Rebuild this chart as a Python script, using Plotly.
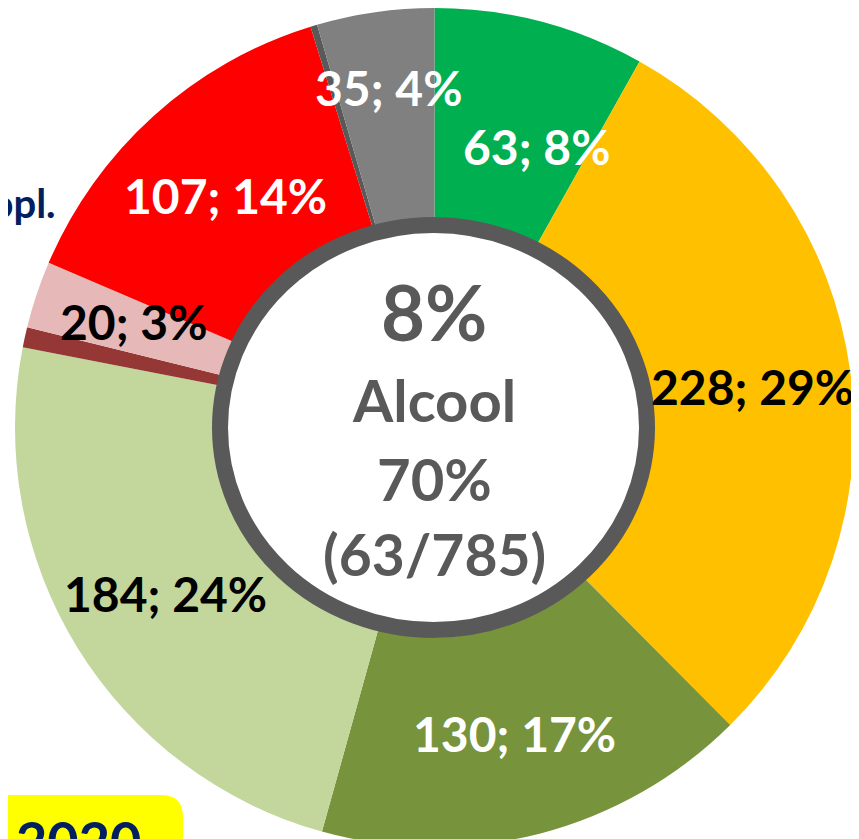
import math
import plotly.graph_objects as go

# ---- data ----
categories = ["Vert", "Orange", "Olive", "Vert clair", "Bordeaux", "Rose", "Rouge", "Gris foncé", "Gris"]
values = [63, 228, 130, 184, 6, 20, 107, 2, 35]
labels_text = ["63; 8%", "228; 29%", "130; 17%", "184; 24%", "", "20; 3%", "107; 14%", "", "35; 4%"]
colors = ["#00B050", "#FFC000", "#77933C", "#C3D69B", "#953735", "#E6B9B8", "#FF0000", "#595959", "#808080"]
text_colors = ["white", "black", "white", "black", "white", "black", "white", "white", "white"]
center_lines = ["8%", "Alcool", "70%", "(63/785)"]
year_label = "2020"
side_label = "Cyclopl."

# label placement style (radius as fraction of outer radius, angular nudge in degrees)
label_radius = [0.713, 0.765, 0.755, 0.755, 0.755, 0.76, 0.745, 0.755, 0.818]
label_nudge = [5.5, 0.5, 0.0, 0.0, 0.0, 1.0, 0.0, 0.0, 0.5]

W, H = 859, 839
FONT = "Lato"

# pie geometry (figure pixels)
dom_x = [7 / W, 846 / W]
dom_y = [0.0, 1.0]
cx = (dom_x[0] + dom_x[1]) / 2 * W
cy = (1 - (dom_y[0] + dom_y[1]) / 2) * H
R = min((dom_x[1] - dom_x[0]) * W, (dom_y[1] - dom_y[0]) * H) / 2

fig = go.Figure()
fig.add_trace(go.Pie(
    labels=categories,
    values=values,
    textinfo="none",
    marker=dict(colors=colors, line=dict(width=0)),
    hole=0.5,
    sort=False,
    direction="clockwise",
    rotation=0,
    showlegend=False,
    domain=dict(x=dom_x, y=dom_y),
    hoverinfo="skip",
))

def px(x):
    return x / W

def py(y):
    return 1 - y / H

annotations = []
total = sum(values)
cum = 0
for v, txt, col, rf, nd in zip(values, labels_text, text_colors, label_radius, label_nudge):
    mid = (cum + v / 2) / total * 360 + nd
    cum += v
    if not txt:
        continue
    a = math.radians(mid)
    x = cx + rf * R * math.sin(a)
    y = cy - rf * R * math.cos(a)
    annotations.append(dict(text=txt, x=px(x), y=py(y), xref="paper", yref="paper",
                            xanchor="center", yanchor="middle", showarrow=False,
                            font=dict(family=FONT, size=48, color=col, weight="bold")))

shapes = [
    dict(type="circle", xref="paper", yref="paper",
         x0=px(212), x1=px(639), y0=py(622), y1=py(217),
         fillcolor="white", line=dict(color="#595959", width=16), layer="above"),
]
# rounded yellow box at the bottom left
x0, x1, y0, y1, r = -20, 175, 787, 880, 22
path = (f"M {px(x0)},{py(y0)} L {px(x1 - r)},{py(y0)} "
        f"Q {px(x1)},{py(y0)} {px(x1)},{py(y0 + r)} "
        f"L {px(x1)},{py(y1)} L {px(x0)},{py(y1)} Z")
shapes.append(dict(type="path", xref="paper", yref="paper", path=path,
                   fillcolor="#FFFF00", line=dict(width=0), layer="above"))

center_sizes = [76, 58, 58, 57]
center_y = [304, 391, 470, 546]
for txt, s, yy in zip(center_lines, center_sizes, center_y):
    annotations.append(dict(text=txt, x=px(426), y=py(yy), xref="paper", yref="paper",
                            xanchor="center", yanchor="middle", showarrow=False,
                            font=dict(family=FONT, size=s, color="#595959", weight="bold")))
annotations.append(dict(text=side_label, x=px(50), y=py(195), xref="paper", yref="paper",
                        xanchor="right", yanchor="middle", showarrow=False,
                        font=dict(family=FONT, size=40, color="#002060", weight="bold")))
annotations.append(dict(text=year_label, x=px(6), y=py(832), xref="paper", yref="paper",
                        xanchor="left", yanchor="middle", showarrow=False,
                        font=dict(family=FONT, size=54, color="#002060", weight="bold")))

fig.update_layout(
    width=W, height=H,
    margin=dict(l=0, r=0, t=0, b=0),
    paper_bgcolor="white", plot_bgcolor="white",
    shapes=shapes, annotations=annotations,
)

fig.write_html("out.html")
